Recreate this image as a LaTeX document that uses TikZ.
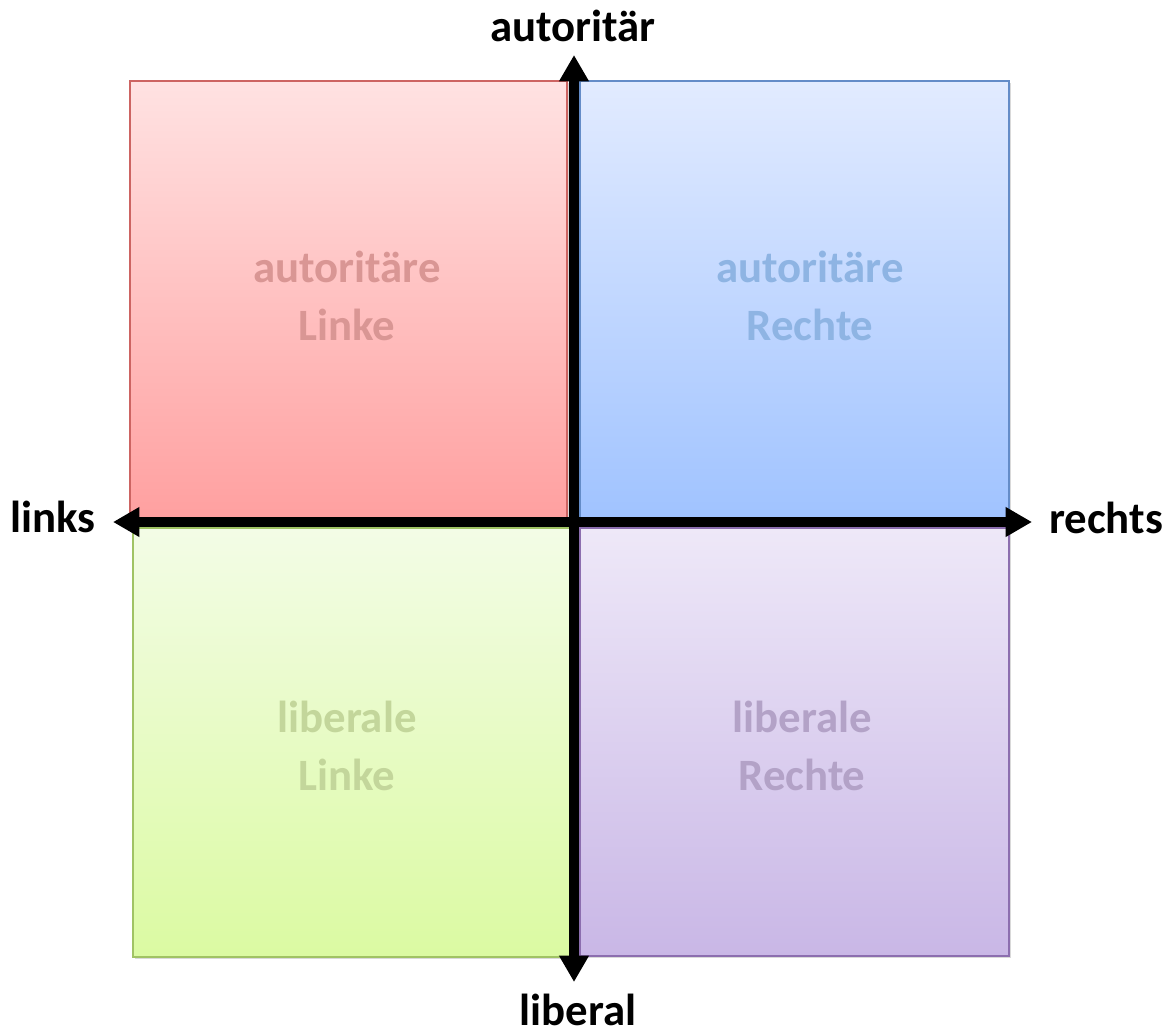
\documentclass[tikz,border=0pt]{standalone}
\usepackage{fontspec}
\setmainfont{Carlito}
\usetikzlibrary{arrows.meta, shadows}

\definecolor{redtop}{RGB}{255,226,226}
\definecolor{redbot}{RGB}{255,160,160}
\definecolor{redline}{RGB}{205,100,98}
\definecolor{redtext}{RGB}{217,150,148}
\definecolor{bluetop}{RGB}{226,235,255}
\definecolor{bluebot}{RGB}{160,195,255}
\definecolor{blueline}{RGB}{100,140,200}
\definecolor{bluetext}{RGB}{142,180,227}
\definecolor{greentop}{RGB}{243,252,230}
\definecolor{greenbot}{RGB}{219,250,162}
\definecolor{greenline}{RGB}{160,195,100}
\definecolor{greentext}{RGB}{195,214,155}
\definecolor{purpletop}{RGB}{238,232,248}
\definecolor{purplebot}{RGB}{201,183,230}
\definecolor{purpleline}{RGB}{140,110,175}
\definecolor{purpletext}{RGB}{179,162,199}

\begin{document}
\begin{tikzpicture}[x=0.02cm, y=-0.02cm, >={Triangle[width=16pt, length=15pt]},
	quad/.style={draw, line width=0.7pt, inner sep=0pt, drop shadow={opacity=0.3, shadow xshift=1.2pt, shadow yshift=-1.2pt}},
	axis/.style={<->, line width=5.2pt},
	lab/.style={anchor=base, font=\bfseries\fontsize{25.5}{30}\selectfont},
	inlab/.style={font=\bfseries\fontsize{25.5}{33}\selectfont, align=center}]

		\useasboundingbox (0,0) rectangle (1172,1034);

			% quadrants
			\node (1) [quad, draw=redline, top color=redtop, bottom color=redbot, minimum width=8.74cm, minimum height=8.74cm] at (348.5,299.5) {};
			\node (2) [quad, draw=blueline, top color=bluetop, bottom color=bluebot, minimum width=8.58cm, minimum height=8.74cm] at (794.5,299.5) {};
			\node (3) [quad, draw=greenline, top color=greentop, bottom color=greenbot, minimum width=8.74cm, minimum height=8.58cm] at (351.5,742.5) {};
			\node (4) [quad, draw=purpleline, top color=purpletop, bottom color=purplebot, minimum width=8.58cm, minimum height=8.56cm] at (794.5,742) {};

			\node (5) [inlab, text=redtext] at (347,296) {autoritäre\\Linke};
			\node (6) [inlab, text=bluetext] at (810,296) {autoritäre\\Rechte};
			\node (7) [inlab, text=greentext] at (347,746) {liberale\\Linke};
			\node (8) [inlab, text=purpletext] at (802,746) {liberale\\Rechte};

			% axes
			\coordinate (top) at (574,55);
			\coordinate (bot) at (574,982);
			\coordinate (lft) at (113,522);
			\coordinate (rgt) at (1032,522);

			\draw[axis] (lft) -- (rgt);
			\draw[axis] (bot) -- (top);

			\node (9) [lab] at (573,42) {autoritär};
			\node (10) [lab] at (578,1025) {liberal};
			\node (11) [lab] at (53,532) {links};
			\node (12) [lab] at (1106,533) {rechts};

\end{tikzpicture}
\end{document}
